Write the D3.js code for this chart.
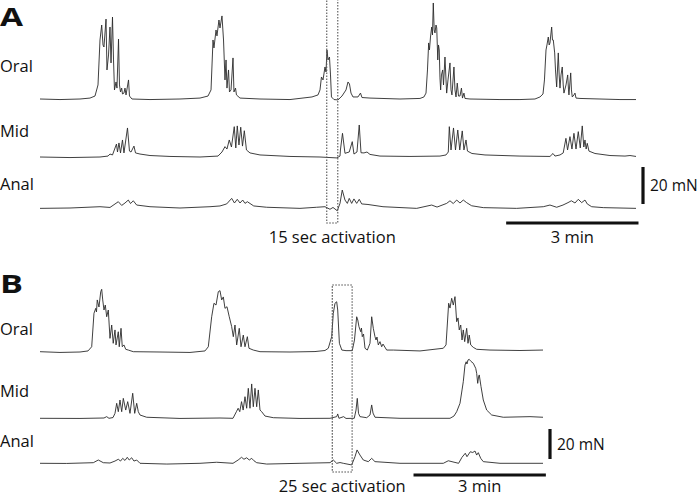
<!DOCTYPE html>
<html>
<head>
<meta charset="utf-8">
<script src="https://cdn.jsdelivr.net/npm/d3@7"></script>
<style>
  html, body { margin: 0; padding: 0; background: #fff; }
  svg { display: block; }
  text { font-family: "Open Sans", sans-serif; fill: #111; }
</style>
</head>
<body>
<svg id="chart"></svg>
<script>
// traces: [time (s), force above baseline (mN)]
const oralA = [[0,0],[27.2,-0.3],[54.4,0],[68,0.5],[74.8,1.6],[78.9,7.6],[81.6,31.9],[83.9,40],[85.7,29.2],[87,28.1],[89.8,43.2],[91.1,15.7],[93.2,23.8],[95.2,38.9],[96.6,19.5],[98.6,44.3],[100,21.1],[101.3,4.9],[103.4,9.2],[104.7,5.9],[106.8,32.4],[108.1,7.6],[109.5,3.8],[111.1,5.9],[112.2,2.7],[114.2,3.2],[115.6,5.9],[117,2.2],[120.4,10.3],[121.7,1.6],[125.1,0],
  [149.6,-0.3],[190.4,0],[217.6,0.5],[228.5,1.6],[232.6,4.9],[235.3,31.9],[236.6,27.6],[239.4,37.3],[240.7,34.1],[243.4,42.7],[244.8,38.4],[247.5,44.9],[249.6,31.9],[251.6,10.3],[253,21.1],[254.3,5.9],[256.4,15.7],[257.7,3.8],[259.8,4.9],[262.5,22.2],[263.8,3.8],[265.9,5.9],[267.2,2.2],[272,0.5],
  [299.2,0],[340,-0.3],[369.9,1.1],[378.1,2.2],[380.8,4.9],[382.8,11.9],[384.9,10.3],[387.6,17.3],[389,14.6],[390.3,26.5],[391.7,21.1],[393.7,22.7],[395.1,13],[396.4,1.1],[399.8,-0.3],[405.3,-0.5],[410.7,1.6],[416.2,4.9],[418.9,9.2],[420.9,8.1],[423,3.2],[425.7,1.1],[432.5,1.1],[435.9,3.2],[437.9,0.8],[448.8,0.5],[489.6,0],[516.8,0.3],[522.2,1.1],[525,3.2],
  [527,15.7],[528.6,30.3],[529.7,26.5],[531.1,33.5],[532.7,38.9],[533.8,34.6],[534.9,51.9],[536.1,37.3],[537.2,35.7],[538.6,40],[539.6,38.4],[541,21.1],[542,29.2],[543,26.5],[544,11.4],[544.9,4.9],[546,13],[547.7,15.7],[548.8,7.6],[550.8,22.7],[552.2,10.3],[553.1,3.2],[554.9,10.3],[557.6,19.5],[559,4.9],[560.3,2.2],[563,17.3],[564.4,4.9],[565.8,1.1],[567.5,8.6],[569.2,1.6],[571.2,1.6],[573.2,5.9],[574.6,0.5],[576.6,3.2],[578,0.3],[584.8,0],
  [625.6,-0.3],[652.8,-0.3],[673.2,0],[680,1.1],[684.1,2.7],[686.1,10.3],[688.2,26.5],[689.5,29.2],[691.3,33.5],[692.5,29.2],[693.6,30.3],[695,35.7],[695.9,38.9],[697,31.9],[698.1,31.9],[700,24.9],[701.1,15.7],[702.7,6.5],[704.9,24.9],[706.1,13],[707.2,5.9],[708.6,13],[710.3,17.3],[711.6,7.6],[712.6,3.2],[715.4,7.6],[717.7,13],[718.8,4.9],[719.4,2.2],[721.8,14.1],[722.8,4.9],[723.9,1.1],[726.2,2.2],[727.6,3.2],[729,0.5],[734.4,0.3],[761.6,0],[788.8,-0.3],[810.6,-0.3]];

const midA = [[0,0],[40.8,-0.3],[81.6,0],[92.5,0.5],[95.2,1.6],[98.6,1.1],[104,7],[105.4,2.7],[107.4,7.6],[109.5,2.2],[112.2,9.2],[114.2,2.2],[119,15.7],[121.7,3.2],[123.8,2.7],[127.8,5.9],[129.9,2.2],[136,1.6],[149.6,0.8],[176.8,0.3],[217.6,0],
  [242.1,0.5],[247.5,2.7],[251.6,5.6],[254.3,4.3],[257.4,9.2],[260.4,5.4],[264.2,16.4],[266.3,4.9],[268.3,16.8],[270.6,6.5],[273,16.1],[275.4,5.9],[277.9,14.2],[280.8,3.8],[285.6,2.2],[299.2,1.1],[340,0.3],[380.8,0],[394.4,-0.3],[403.9,-0.5],[408,0.5],
  [408.6,3.8],[411.4,12.8],[414.8,2],[420.6,2.7],[424.7,8.3],[427,1.6],[431.1,2.7],[434.2,17.3],[436.6,2.3],[440.6,2.2],[444.7,2.7],[448.8,1.4],[462.4,0.5],[503.2,0.3],[544,0.5],[552.2,1.1],
  [555.3,2.7],[556.7,16.4],[559,3.8],[562.4,15.7],[565.1,3.8],[568.2,14.6],[570.9,3.8],[574.3,14.1],[576.6,3.8],[579.4,9.2],[581.4,3.2],[587.5,1.9],[605.2,1.1],[652.8,0.5],[693.6,0.3],[697.7,1.9],[700.4,0.5],[707.2,1.1],
  [711.6,2.2],[715.3,10.1],[717.5,3.8],[720.8,11],[723.5,4.3],[726.2,12.8],[729,4.3],[732.1,13.7],[734.8,4.9],[737.5,16.8],[739.6,5.4],[741.2,9.2],[742.8,4.3],[744.3,7.4],[746.6,3.2],[754.8,1.9],[775.2,0.8],[795.6,0.5],[802.4,0.8],[810.6,0.3]];

const analA = [[0,-0.2],[40.8,0],[81.6,0.7],[95.2,0.3],[106.5,3.4],[111.1,1.4],[115.6,2.7],[120.1,4.3],[123.1,2.4],[126.9,3.9],[131.5,1.6],[149.6,0.7],[190.4,0],[231.2,0.7],[244.8,1.1],[253.9,2.2],[260.7,5.2],[264.5,2.7],[268.3,4.7],[272,2.7],[275.7,4.3],[278.8,2.5],[282,3.4],[290.7,1.1],[308.3,0.4],
  [353.6,-0.2],[376.3,0.4],[387.6,0.7],[394.4,-0.7],[398.5,0.3],[404.3,-1.5],[408,2.5],[411.1,9.7],[414.8,4.3],[418,2.5],[420.6,5.2],[423.9,2.5],[427,4.9],[430.7,2.5],[434.2,4.7],[437.5,2.2],[446.1,1.9],[466.5,0.7],[512.3,-0.2],[532.7,1.6],[540,0.5],
  [553.1,2.5],[557.6,3.9],[562.1,2.4],[566.7,4.3],[571.2,2.7],[575.7,4.3],[580.3,2.9],[587.1,1.2],[602.9,0.2],[648.3,-0.2],[684.5,0.7],[693.6,1.6],[702.7,0.4],[711.3,1.6],[718.1,2.9],[722.7,3.9],[727.6,2.7],[732.1,4.7],[736.7,2.9],[741.2,4.3],[744.3,2.2],[750.3,0.7],[766.1,0.2],[810.6,-0.2]];

const oralB = [[0,0.2],[27.2,-0.3],[54.4,0],[65.3,0.7],[70.3,3.5],[73.4,25.8],[75.8,29.1],[76.8,26.7],[77.9,34.7],[80.2,30],[82.6,40.2],[83.9,41.8],[85.3,34.7],[87,28],[88.8,31.3],[90.7,23.5],[92.9,28],[95.2,9.1],[97.5,18],[99.6,5.8],[102,14.7],[103.4,4.7],[106.5,13.5],[107.8,3.5],[110.2,15.8],[111.9,3.5],[114.2,4.7],[116.6,1.8],[120.1,1.3],[126.9,0.2],
  [163.2,0],[204,-0.3],[224.4,0.7],[228.9,3.5],[233.5,23.5],[236.6,32.5],[239.4,31.3],[242.5,40.2],[244.8,40.9],[247.1,34.7],[249.3,36.7],[251.6,29.1],[254.3,30.2],[257.4,23.5],[260.7,16.9],[262.9,10.2],[265.2,18],[267.5,4.7],[271,15.8],[273.4,3.5],[276.5,11.3],[278.8,3.5],[282,10.2],[284.2,2.5],[290.1,1.3],[299.2,0.2],
  [340,0],[374,0.3],[387.6,1],[392.1,2.5],[396.7,10.2],[398.9,25.8],[401.2,32.5],[403.5,33.5],[404.9,28],[407.2,5.8],[410.5,1.3],[416.2,0.9],[424.7,0.9],
  [427.7,8],[430.7,23.5],[432.2,21.3],[433.8,16.9],[436.2,13.5],[437.2,16],[438.3,10.2],[440,12],[442,2.5],[445.2,1.3],[448.8,5.8],[451.1,23.5],[453.3,15.8],[455.6,10.2],[457,8],[458.3,10],[460.1,4.7],[462.4,6.9],[464.7,3.5],[466.5,5.3],[471.5,1.3],[480.5,1.3],[516.8,0.7],
  [548.5,2.5],[552.2,4.7],[555.8,32.5],[557.6,29.3],[559.9,35.8],[562.1,31.3],[564.4,36.9],[566.7,20.2],[568.5,22.7],[570.2,14.7],[572.2,18],[574,8],[575.7,14.7],[577.6,6.9],[580.3,15.8],[582.1,5.8],[583.8,11.3],[585.8,4.7],[589.3,3.1],[593.9,1.8],[612,1.3],[652.8,1],[684.1,1.3]];

const midB = [[0,-0.2],[54.4,-0.3],[87,0],[90.7,0.9],[93.8,-0.2],[99.3,0.3],[102,3.1],[104.3,9.8],[106.5,4.2],[108.8,12],[111.1,4.2],[113.3,13.1],[116.6,5.3],[119.3,10.9],[122.4,3.1],[126.1,16.5],[128.8,3.1],[131.5,9.8],[133.7,4.2],[136,2],[145.1,0.5],[190.4,-0.3],[244.8,0],
  [262.5,-0.2],[267.1,4.2],[269.5,6.5],[271.7,4.2],[274.1,10.9],[276.3,5.3],[278.8,14.2],[281.1,6.5],[283.3,19.8],[285.6,6.5],[287.9,22.7],[290.1,7.5],[292.4,19.8],[294.7,7.5],[296.9,18.7],[299.2,5.3],[301.5,4.2],[306,1.3],[317.3,0.2],[353.6,-0.3],
  [394.4,-0.2],[403.5,0.9],[404.9,2.7],[406.6,-0.2],[412.9,0.9],[416.2,-0.3],[427.4,-0.2],[429.8,5.3],[431.5,13.1],[433.2,3.1],[435.2,0.9],[444.3,0.2],[448.8,2],[451.1,8.7],[452.9,3.3],[455.6,0.5],[489.6,-0.2],
  [557.6,-0.2],[563,1.3],[566.7,4.2],[571.2,9.8],[574,18.7],[575.7,24.2],[578,35.3],[579.6,37.5],[580.7,36],[582.1,38.7],[583.8,39.1],[586.2,37.7],[589.3,36.5],[592.6,33.1],[593.9,29.8],[595.3,23.1],[596.4,27.3],[597.4,28.7],[599.8,20.9],[602.9,12],[607.5,5.3],[614.3,2],[630.1,0.5],[666.4,0.9],[684.1,0.5]];

const analB = [[0,-0.2],[36.3,-0.3],[72.5,0.2],[79.3,2],[86.1,0.2],[95.2,0],[102,1.3],[106.5,2.5],[109.5,1.3],[112.5,3.1],[115.6,1.7],[118.7,3.8],[121.4,2],[124.7,3.5],[127.8,1.3],[131.5,2],[136,-0.2],[172.5,-0.7],[217.6,-0.2],[240.3,0.5],
  [262.5,-0.2],[269.5,2],[274.1,3.8],[277.4,2.5],[281.1,3.5],[284.6,2],[287.9,3.1],[291,1.5],[294.7,0.2],[308.3,-0.7],[353.6,-0.2],[394.4,0.2],[398.9,2],[403.5,-0.2],[408,0.3],[412.5,-0.2],[423.9,-1.3],
  [428.4,4.2],[431.2,8.7],[435.2,5.3],[439.7,2],[446.5,0.9],[451.1,3.1],[455.6,0.9],[489.6,-0.2],[548.5,-0.2],[555.3,1.5],[561.7,0.7],[569.3,-0.2],[573.9,3.8],[578.4,6.5],[580.7,4.2],[585.2,7.5],[588.6,7],[591.6,8],[593.9,5.3],[596.1,6.9],[599.4,3.1],[602.9,0.9],[625.6,-0.2],[684.1,-0.2]];

const traceNames = ["Oral", "Mid", "Anal"];
// activation windows (s) and scale bars
const activationA = [390, 405];
const activationB = [397.5, 424.5];
const activationLabels = ["15 sec activation", "25 sec activation"];
const timeBarSec = 180;
const forceBarMN = 20;
const timeBarLabel = "3 min";
const forceBarLabel = "20 mN";

const width = 700, height = 496;
const svg = d3.select("#chart").attr("width", width).attr("height", height);

const panels = [
  {
    letter: "A", letterY: 25.5,
    data: [oralA, midA, analA],
    tMax: 810.6, xRange: [40, 636],
    bases: [99, 157, 208], px20: 37,
    labelY: [72, 136.5, 190],
    activation: activationA, boxY: [-2, 223],
    actLabelY: 242.5,
    timeBarStart: 634, timeBarY: 223, timeLabelY: 242.5,
    forceBarX: 643, forceBarBottom: 204
  },
  {
    letter: "B", letterY: 293,
    data: [oralB, midB, analB],
    tMax: 684.1, xRange: [40, 543],
    bases: [352, 418, 463], px20: 30,
    labelY: [335, 396.5, 446.5],
    activation: activationB, boxY: [285, 472],
    actLabelY: 492,
    timeBarStart: 508, timeBarY: 475, timeLabelY: 492,
    forceBarX: 550, forceBarBottom: 459
  }
];

panels.forEach((p, pi) => {
  const g = svg.append("g");
  const x = d3.scaleLinear().domain([0, p.tMax]).range(p.xRange);

  g.append("text")
    .attr("x", 0).attr("y", p.letterY)
    .attr("font-family", "DejaVu Sans, sans-serif")
    .attr("font-weight", "bold")
    .attr("font-size", "25px")
    .attr("textLength", 23)
    .attr("lengthAdjust", "spacingAndGlyphs")
    .text(p.letter);

  p.data.forEach((trace, i) => {
    const y = d3.scaleLinear().domain([0, forceBarMN]).range([p.bases[i], p.bases[i] - p.px20]);
    const line = d3.line().x(d => x(d[0])).y(d => y(d[1]));
    g.append("path").datum(trace)
      .attr("fill", "none")
      .attr("stroke", "#2a2a2a")
      .attr("stroke-width", 0.9)
      .attr("stroke-linejoin", "round")
      .attr("d", line);

    g.append("text")
      .attr("x", 0).attr("y", p.labelY[i])
      .attr("font-size", "16.5px")
      .text(traceNames[i]);
  });

  // activation box
  const x0 = x(p.activation[0]), x1 = x(p.activation[1]);
  g.append("rect")
    .attr("x", x0).attr("y", p.boxY[0])
    .attr("width", x1 - x0).attr("height", p.boxY[1] - p.boxY[0])
    .attr("fill", "none")
    .attr("stroke", "#555")
    .attr("stroke-width", 1.1)
    .attr("stroke-dasharray", "1.6,1.4");

  g.append("text")
    .attr("x", (x0 + x1) / 2).attr("y", p.actLabelY)
    .attr("text-anchor", "middle")
    .attr("font-size", "16.5px")
    .text(activationLabels[pi]);

  // time scale bar
  const tb0 = x(p.timeBarStart), tb1 = x(p.timeBarStart + timeBarSec);
  g.append("line")
    .attr("x1", tb0).attr("x2", tb1)
    .attr("y1", p.timeBarY).attr("y2", p.timeBarY)
    .attr("stroke", "#111").attr("stroke-width", 3.2);
  g.append("text")
    .attr("x", (tb0 + tb1) / 2).attr("y", p.timeLabelY)
    .attr("text-anchor", "middle")
    .attr("font-size", "16.5px")
    .text(timeBarLabel);

  // force scale bar
  const fy = d3.scaleLinear().domain([0, forceBarMN]).range([p.forceBarBottom, p.forceBarBottom - p.px20]);
  g.append("line")
    .attr("x1", p.forceBarX).attr("x2", p.forceBarX)
    .attr("y1", fy(0)).attr("y2", fy(forceBarMN))
    .attr("stroke", "#111").attr("stroke-width", 3.2);
  g.append("text")
    .attr("x", p.forceBarX + 7).attr("y", (fy(0) + fy(forceBarMN)) / 2 + 5.5)
    .attr("font-size", "15.5px")
    .text(forceBarLabel);
});
</script>
</body>
</html>
